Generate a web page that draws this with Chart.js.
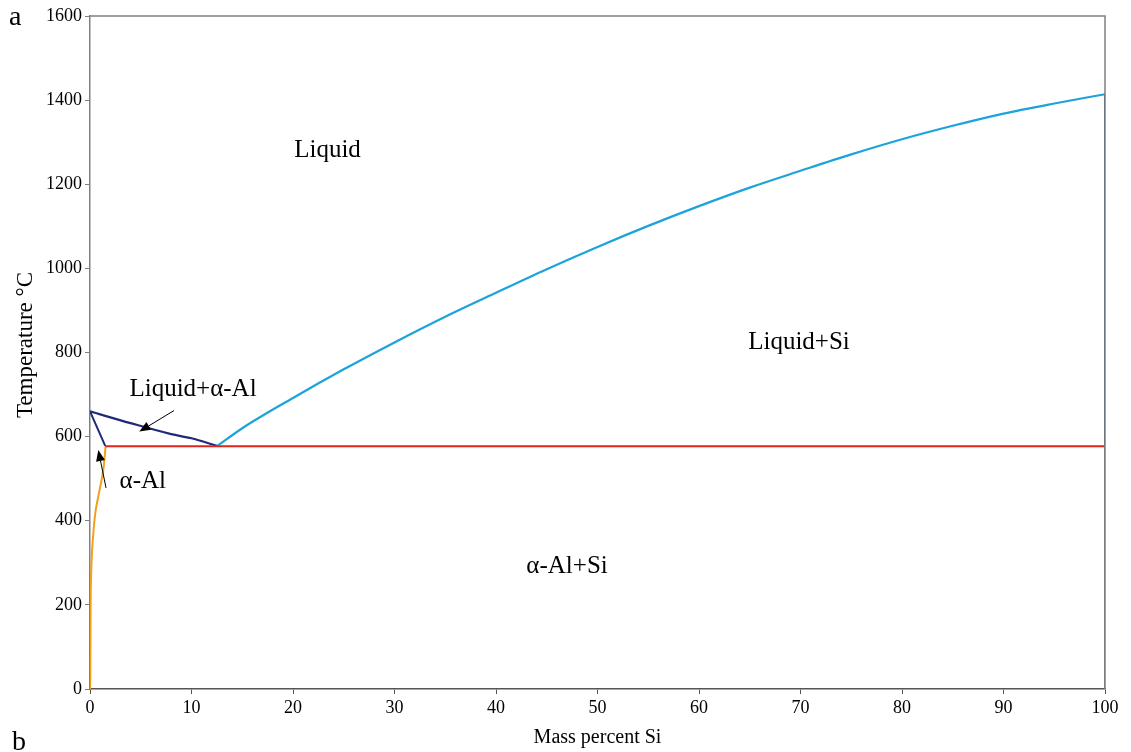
<!DOCTYPE html>
<html>
<head>
<meta charset="utf-8">
<script src="https://cdn.jsdelivr.net/npm/chart.js@4.4.1/dist/chart.umd.min.js"></script>
<style>
  html, body { margin: 0; padding: 0; background: #ffffff; }
  #wrap { width: 1131px; height: 752px; position: relative; }
</style>
</head>
<body>
<div id="wrap"><canvas id="c" width="1131" height="752"></canvas></div>
<script>
// ---- Data (mass percent Si, temperature °C) ----
const xTicks = [0, 10, 20, 30, 40, 50, 60, 70, 80, 90, 100];
const yTicks = [0, 200, 400, 600, 800, 1000, 1200, 1400, 1600];

const liqAlX = [0, 4, 8, 10, 12.5];
const liqAlT = [660, 632, 606, 596, 578];

const solAlX = [0, 1.5];
const solAlT = [660, 578];

const eutX = [1.5, 100];
const eutT = [577, 577];

const solvusX = [1.54, 1.31, 0.88, 0.56, 0.33, 0.16, 0.07, 0.03, 0];
const solvusT = [577, 521, 465, 425, 371, 307, 228, 29, 0];

const liqSiX = [12.5, 15, 20, 25, 30, 35, 40, 45, 50, 55, 60, 65, 70, 75, 80, 85, 90, 95, 100];
const liqSiT = [577, 620, 692, 760, 824, 885, 942, 998, 1051, 1101, 1148, 1192, 1232, 1271, 1307, 1339, 1368, 1392, 1414];

const siUpperX = [100, 100];
const siUpperT = [1414, 577];
const siLowerX = [100, 100];
const siLowerT = [577, 0];

// region labels
const regionText = ["Liquid", "Liquid+Si", "Liquid+\u03B1-Al", "\u03B1-Al", "\u03B1-Al+Si"];
const regionX = [23.4, 69.85, 10.15, 5.2, 47.0];
const regionT = [1265, 808, 697, 479, 275];

// arrows: tail -> head (data units)
const arrowTailX = [8.28, 1.58];
const arrowTailT = [662, 478];
const arrowHeadX = [4.86, 0.82];
const arrowHeadT = [612, 568];

const yTitle = 'Temperature \u00B0C';
const xTitle = 'Mass percent Si';

function pts(xs, ys) { return xs.map((x, i) => ({ x: x, y: ys[i] })); }

const FONT = "'Liberation Serif', 'Times New Roman', serif";

const overlay = {
  id: 'overlay',
  afterDraw(chart) {
    const ctx = chart.ctx;
    const xs = chart.scales.x, ys = chart.scales.y;
    const a = chart.chartArea;
    ctx.save();
    // top and right frame
    ctx.strokeStyle = '#808080';
    ctx.lineWidth = 1.5;
    ctx.beginPath();
    ctx.moveTo(a.left, a.top);
    ctx.lineTo(a.right, a.top);
    ctx.lineTo(a.right, a.bottom);
    ctx.stroke();
    // region labels
    ctx.fillStyle = '#000';
    ctx.font = '25px ' + FONT;
    ctx.textAlign = 'center';
    ctx.textBaseline = 'alphabetic';
    regionText.forEach((t, i) => {
      ctx.fillText(t, xs.getPixelForValue(regionX[i]), ys.getPixelForValue(regionT[i]));
    });
    // arrows
    ctx.strokeStyle = '#000';
    ctx.lineWidth = 1;
    arrowTailX.forEach((tx, i) => {
      const x1 = xs.getPixelForValue(tx), y1 = ys.getPixelForValue(arrowTailT[i]);
      const x2 = xs.getPixelForValue(arrowHeadX[i]), y2 = ys.getPixelForValue(arrowHeadT[i]);
      const ang = Math.atan2(y2 - y1, x2 - x1);
      const L = 11, W = 4.5;
      const bx = x2 - L * Math.cos(ang), by = y2 - L * Math.sin(ang);
      ctx.beginPath();
      ctx.moveTo(x1, y1);
      ctx.lineTo(bx, by);
      ctx.stroke();
      ctx.beginPath();
      ctx.moveTo(x2, y2);
      ctx.lineTo(bx + W * Math.sin(ang), by - W * Math.cos(ang));
      ctx.lineTo(bx - W * Math.sin(ang), by + W * Math.cos(ang));
      ctx.closePath();
      ctx.fillStyle = '#000';
      ctx.fill();
    });
    // y-axis title
    ctx.save();
    ctx.translate(26, 345);
    ctx.rotate(-Math.PI / 2);
    ctx.font = '23px ' + FONT;
    ctx.textAlign = 'center';
    ctx.textBaseline = 'middle';
    ctx.fillText(yTitle, 0, 0);
    ctx.restore();
    // panel letters
    ctx.font = '28px ' + FONT;
    ctx.textAlign = 'left';
    ctx.textBaseline = 'alphabetic';
    ctx.fillText('a', 9, 25);
    ctx.fillText('b', 12, 750);
    ctx.restore();
  }
};

function lineDs(xs, ys, color, w, mono) {
  return {
    data: pts(xs, ys),
    showLine: true,
    borderColor: color,
    backgroundColor: color,
    borderWidth: w || 2,
    pointRadius: 0,
    pointHoverRadius: 0,
    tension: 0.3,
    cubicInterpolationMode: mono ? 'monotone' : 'default',
    fill: false
  };
}

new Chart(document.getElementById('c'), {
  type: 'scatter',
  data: {
    datasets: [
      lineDs(siLowerX, siLowerT, '#8a7662', 2),
      lineDs(siUpperX, siUpperT, '#3b5878', 2),
      lineDs(eutX, eutT, '#e0241b', 2),
      lineDs(solvusX, solvusT, '#f2a01e', 2),
      lineDs(solAlX, solAlT, '#202a78', 2),
      lineDs(liqAlX, liqAlT, '#202a78', 2.2, true),
      lineDs(liqSiX, liqSiT, '#1ca3db', 2.2, true)
    ]
  },
  options: {
    responsive: false,
    animation: false,
    events: [],
    layout: { padding: { top: 16, right: 26, left: 0, bottom: 0 } },
    plugins: { legend: { display: false }, tooltip: { enabled: false } },
    scales: {
      x: {
        type: 'linear',
        min: 0, max: 100,
        afterFit(s) { s.height = 63; },
        afterBuildTicks(s) { s.ticks = xTicks.map(v => ({ value: v })); },
        ticks: { color: '#000', font: { family: FONT, size: 18 }, padding: 3, maxRotation: 0, callback: v => String(v) },
        grid: { drawOnChartArea: false, drawTicks: true, tickLength: 5, color: '#555', lineWidth: 1 },
        border: { display: true, color: '#555', width: 1.5 },
        title: { display: true, text: xTitle, color: '#000', font: { family: FONT, size: 20 }, padding: { top: 0, bottom: 2 } }
      },
      y: {
        type: 'linear',
        min: 0, max: 1600,
        afterFit(s) { s.width = 90; },
        afterBuildTicks(s) { s.ticks = yTicks.map(v => ({ value: v })); },
        ticks: { color: '#000', font: { family: FONT, size: 18 }, padding: 3, callback: v => String(v) },
        grid: { drawOnChartArea: false, drawTicks: true, tickLength: 5, color: '#808080', lineWidth: 1 },
        border: { display: true, color: '#808080', width: 1.5 },
        title: { display: false }
      }
    }
  },
  plugins: [overlay]
});
</script>
</body>
</html>
